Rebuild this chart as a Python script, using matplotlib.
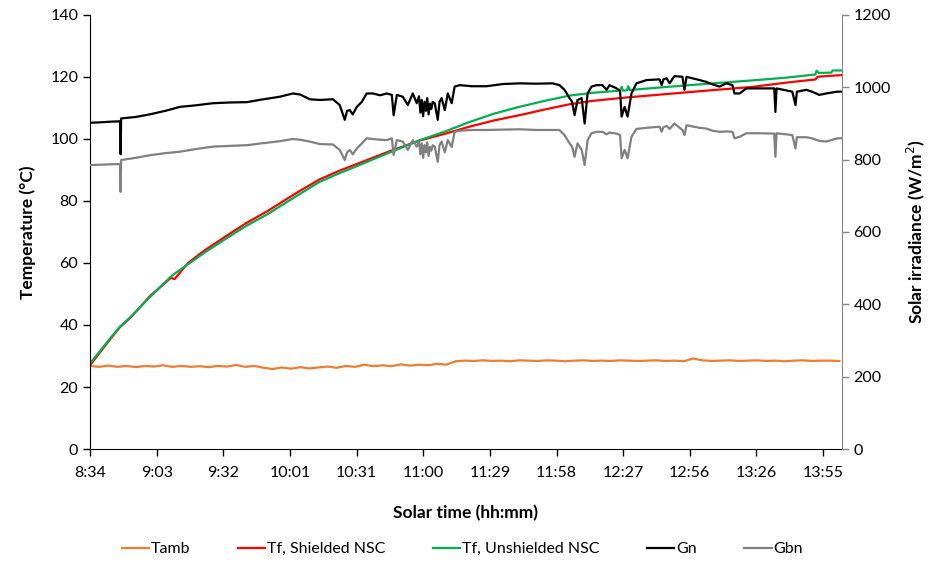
import numpy as np
import matplotlib.pyplot as plt

plt.rcParams['font.family'] = ['Lato', 'DejaVu Sans']

# x axis is minutes after 8:34 (solar time); one tick every 350 samples of 5 s
tick_step = 29.17
time_labels = ['8:34', '9:03', '9:32', '10:01', '10:31', '11:00',
               '11:29', '11:58', '12:27', '12:56', '13:26', '13:55']

# ambient temperature, logged every 4 min (degC)
tamb = [26.8, 26.5, 26.9, 26.5, 26.8, 26.4, 26.8, 26.6, 27.0, 26.5, 26.8, 26.5,
        26.7, 26.4, 26.8, 26.6, 27.1, 26.5,
        26.8, 26.2, 25.8, 26.3, 25.9, 26.4, 26.0,
        26.3, 26.6, 26.2, 26.8, 26.5, 27.2, 26.7, 27.0, 26.7, 27.3, 26.9, 27.2,
        27.0, 27.5, 27.2,
        28.3, 28.5, 28.4, 28.6, 28.4, 28.5, 28.3, 28.6, 28.5, 28.4, 28.6, 28.5,
        28.3, 28.5, 28.6, 28.4, 28.5, 28.4, 28.6, 28.5, 28.4, 28.5, 28.6, 28.4,
        28.5, 28.3, 29.2, 28.6, 28.4, 28.5, 28.6, 28.4, 28.5, 28.6, 28.4, 28.5,
        28.3, 28.5, 28.6, 28.4, 28.5, 28.5, 28.4]
tamb_t = np.arange(len(tamb)) * 4.0

# fluid temperature, shielded collector
shield_t = [0, 4.4, 8.7, 13.1, 17.9, 26.2, 35.4, 37, 42.9, 50,
            59, 68, 77.8, 84.5, 91, 100.6, 109.3, 116.3, 131, 144.3,
            155, 166.2, 177, 188.1, 199, 209.9, 220, 235, 249.3, 270,
            290, 305, 314.9, 317.5, 318.5, 329]
shield = [27.0, 31.2, 35.3, 39.3, 42.5, 49.3, 55.2, 54.8, 60.0, 64.0,
          68.4, 72.7, 76.8, 79.9, 82.9, 87.0, 89.8, 91.8, 96.0, 99.5,
          101.6, 104.0, 106.0, 107.7, 109.5, 111.2, 112.3, 113.4, 114.3, 115.6,
          116.8, 118.2, 119.0, 119.2, 120.1, 120.6]

# fluid temperature, unshielded collector
unshield_t = [0, 4.4, 8.7, 13.1, 17.9, 26.2, 35.4, 37.5, 42.9, 50,
              59, 68, 77.8, 84.5, 91, 100.6, 109.3, 116.3, 131, 144.3,
              155, 166.2, 177, 188.1, 199, 209.9, 220, 232, 232.7, 233.3,
              235, 235.6, 236.2, 249.3, 270, 290, 305, 314.9, 317.5, 318,
              319, 324.5, 325, 329]
unshield = [27.6, 31.6, 35.6, 39.4, 42.7, 49.0, 55.6, 56.8, 59.6, 63.3,
            67.6, 71.8, 75.8, 78.9, 81.9, 86.2, 89.0, 91.1, 95.6, 99.6,
            102.3, 105.5, 108.2, 110.4, 112.3, 114.0, 114.9, 115.6, 116.8, 115.6,
            115.7, 117.0, 115.8, 116.6, 117.8, 118.9, 119.8, 120.6, 120.8, 122.0,
            121.3, 121.4, 122.1, 122.1]

# irradiance (W/m2), both pyranometers share the same time stamps
irr_t = [0, 4, 9, 13.2, 13.4, 13.6, 20, 26, 33, 39.4,
         46, 53.8, 61, 68.7, 75, 83.1, 88.8, 92, 96.2, 100.6,
         106.3, 109.3, 111.5, 112.5, 113.7, 115, 116.8, 119, 121.1, 123.8,
         127, 129.9, 132.1, 132.9, 134.3, 136.9, 139.1, 141.3, 143, 144,
         144.6, 145.2, 145.8, 146.4, 147, 147.6, 148.2, 148.8, 149.4, 150,
         150.9, 152.2, 153, 153.9, 155.3, 156.6, 158.3, 159.6, 161.8, 167,
         173.6, 180.6, 188.1, 195, 202.5, 205.5, 207.7, 209.9, 211, 212.1,
         213.4, 215.2, 216.5, 217.8, 219.5, 221.7, 224.3, 226.1, 227.4, 230.5,
         232, 232.7, 234, 235.3, 237, 239.2, 243.6, 249.3, 250.2, 251,
         252.4, 253.7, 255.8, 259.3, 260.2, 261.1, 266.8, 269.8, 272.5, 275.5,
         278.6, 281.2, 282.1, 284.3, 287.3, 293, 299.5, 300, 300.5, 307.4,
         308.8, 309.4, 313.6, 316, 319.2, 322.3, 327.1, 329]
gn = [902, 903, 905, 906, 815, 914, 918, 925, 935, 946,
      950, 956, 958, 959, 966, 974, 983, 980, 967, 965,
      967, 951, 910, 935, 937, 925, 946, 960, 983, 983,
      978, 983, 979, 923, 979, 974, 951, 983, 956, 975,
      930, 965, 920, 960, 935, 970, 925, 955, 940, 960,
      956, 910, 960, 970, 937, 983, 956, 1002, 1006, 1003,
      1003, 1009, 1011, 1010, 1011, 1006, 993, 970, 960, 923,
      965, 970, 900, 983, 1002, 1006, 1006, 993, 1006, 997,
      990, 919, 946, 919, 983, 1011, 1020, 1022, 1006, 1022,
      1025, 1011, 1031, 1029, 993, 1029, 1020, 1015, 1008, 1002,
      1011, 1006, 983, 983, 997, 997, 997, 932, 997, 988,
      951, 988, 993, 988, 979, 983, 988, 988]
gbn = [785, 786, 787, 788, 711, 799, 805, 812, 818, 822,
       829, 836, 838, 840, 845, 851, 857, 855, 850, 843,
       842, 827, 799, 820, 827, 815, 831, 845, 859, 857,
       855, 854, 859, 813, 854, 850, 827, 854, 836, 850,
       815, 845, 805, 840, 820, 848, 810, 835, 825, 840,
       836, 794, 840, 850, 820, 854, 835, 877, 880, 882,
       882, 883, 884, 882, 882, 882, 868, 845, 836, 808,
       845, 827, 785, 854, 873, 877, 877, 870, 875, 872,
       868, 804, 827, 804, 863, 885, 888, 891, 877, 890,
       893, 885, 900, 882, 868, 895, 888, 886, 880, 877,
       878, 877, 859, 863, 873, 873, 872, 808, 873, 868,
       831, 862, 862, 859, 852, 850, 859, 859]

fig, ax = plt.subplots(figsize=(9.3, 5.65), dpi=100)
fig.subplots_adjust(left=0.0968, right=0.905, bottom=0.2053, top=0.9735)
ax2 = ax.twinx()

lw = 1.6
l1, = ax.plot(tamb_t, tamb, color='#ED7D31', lw=lw, label='Tamb')
l2, = ax.plot(shield_t, shield, color='#FF0000', lw=lw, label='Tf, Shielded NSC')
l3, = ax.plot(unshield_t, unshield, color='#00B050', lw=lw, label='Tf, Unshielded NSC')
l4, = ax2.plot(irr_t, gn, color='#000000', lw=lw, label='Gn')
l5, = ax2.plot(irr_t, gbn, color='#808080', lw=lw, label='Gbn')

ax.set_xlim(0, 329)
ax.set_ylim(0, 140)
ax2.set_ylim(0, 1200)
ax.set_yticks(np.arange(0, 141, 20))
ax2.set_yticks(np.arange(0, 1201, 200))
ax.set_xticks(np.arange(len(time_labels)) * tick_step)
ax.set_xticklabels(time_labels)

for a in (ax, ax2):
    a.spines['top'].set_visible(False)
ax.spines['right'].set_visible(False)
ax.spines['left'].set_color('black')
ax.spines['bottom'].set_color('black')
ax2.spines['left'].set_visible(False)
ax2.spines['bottom'].set_visible(False)
ax2.spines['right'].set_color('#868686')

ax.tick_params(axis='both', direction='out', length=5, width=1, labelsize=11.5,
               colors='black')
ax.tick_params(axis='x', pad=7)
ax2.tick_params(axis='y', direction='out', length=5, width=1, labelsize=11.5,
                color='#868686', labelcolor='black')

ax.set_ylabel('Temperature (°C)', fontsize=12.5, fontweight='bold')
ax.yaxis.set_label_coords(-0.072, 0.5)
ax2.set_ylabel('Solar irradiance (W/m$^2$)', fontsize=12.5, fontweight='bold')
ax2.yaxis.set_label_coords(1.083, 0.5)
ax.set_xlabel('Solar time (hh:mm)', fontsize=12.5, fontweight='bold')
ax.xaxis.set_label_coords(0.5, -0.128)

fig.legend(handles=[l1, l2, l3, l4, l5], loc='center',
           bbox_to_anchor=(0.497, 0.028), ncol=5, frameon=False,
           fontsize=11.5, handlelength=1.7, handletextpad=0.1,
           columnspacing=3.0)

fig.savefig('out.png', dpi=100)
